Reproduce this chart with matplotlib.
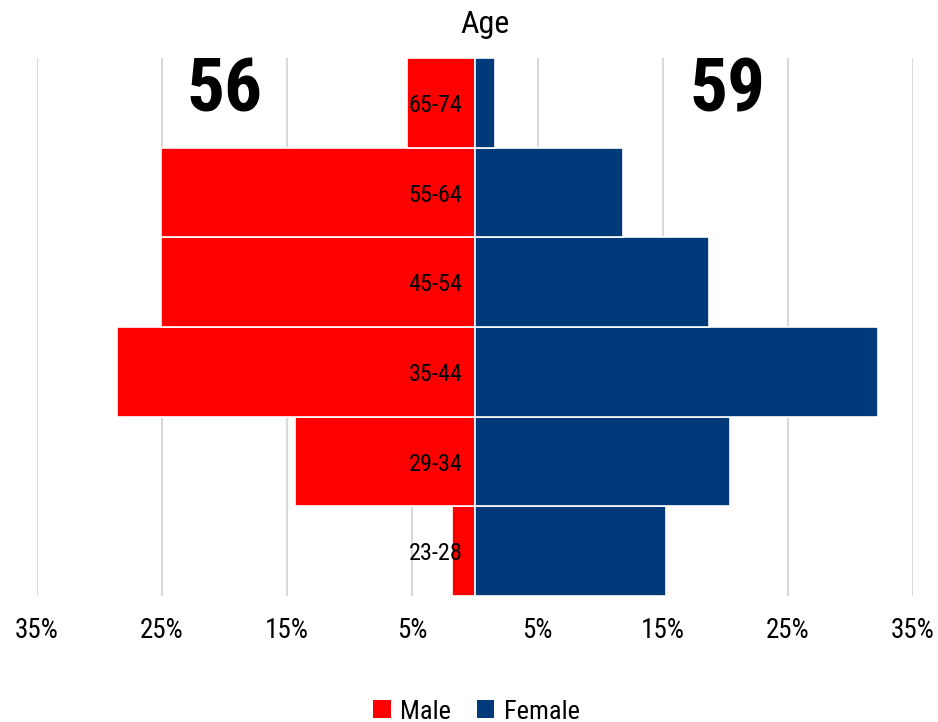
import matplotlib
matplotlib.use("Agg")
import matplotlib.pyplot as plt
from matplotlib.patches import Patch

plt.rcParams['font.family'] = ['Roboto Condensed', 'Roboto', 'DejaVu Sans']

# age distribution in percent, bottom group first
age_groups = ['23-28', '29-34', '35-44', '45-54', '55-64', '65-74']
male_pct = [1.8, 14.4, 28.6, 25.1, 25.1, 5.4]
female_pct = [15.3, 20.4, 32.2, 18.7, 11.8, 1.6]
male_total = 56
female_total = 59
tick_vals = [-35, -25, -15, -5, 5, 15, 25, 35]
tick_text = ['35%', '25%', '15%', '5%', '5%', '15%', '25%', '35%']

MALE_COLOR = '#FF0000'
FEMALE_COLOR = '#003A7A'

fig = plt.figure(figsize=(9.38, 7.22), dpi=100)
ax = fig.add_axes([0.0394, 0.1745, 0.9339, 0.7452])

pos = range(len(age_groups))
ax.barh(pos, [-v for v in male_pct], height=1.0, color=MALE_COLOR,
        edgecolor='white', linewidth=1.2, zorder=2)
ax.barh(pos, female_pct, height=1.0, color=FEMALE_COLOR,
        edgecolor='white', linewidth=1.2, zorder=2)

# age group names sit just left of the centre line
for i, name in enumerate(age_groups):
    ax.text(-1.0, i - 0.03, name, ha='right', va='center', fontsize=17.5,
            color='black', zorder=3)

ax.text(-20, 5.13, str(male_total), ha='center', va='center', fontsize=54,
        fontweight='bold', color='black', zorder=3)
ax.text(20.2, 5.13, str(female_total), ha='center', va='center', fontsize=54,
        fontweight='bold', color='black', zorder=3)

ax.set_xlim(-35, 35)
ax.set_ylim(-0.5, 5.5)
ax.set_xticks(tick_vals)
ax.set_xticklabels(tick_text, fontsize=19.5)
ax.set_yticks([])
ax.tick_params(axis='x', length=0, pad=15)
ax.grid(axis='x', color='#d9d9d9', linewidth=1.5, zorder=0)
ax.set_axisbelow(True)
for sp in ax.spines.values():
    sp.set_visible(False)

ax.text(0.8, 1.035, 'Age', transform=ax.get_xaxis_transform(), ha='center',
        va='bottom', fontsize=23)

handles = [Patch(facecolor=MALE_COLOR, label='Male'),
           Patch(facecolor=FEMALE_COLOR, label='Female')]
fig.legend(handles=handles, loc='lower center', bbox_to_anchor=(0.508, -0.035),
           ncol=2, frameon=False, fontsize=19, handlelength=0.65,
           handleheight=0.65, handletextpad=0.35, columnspacing=1.0)

fig.savefig('out.png', dpi=100)
